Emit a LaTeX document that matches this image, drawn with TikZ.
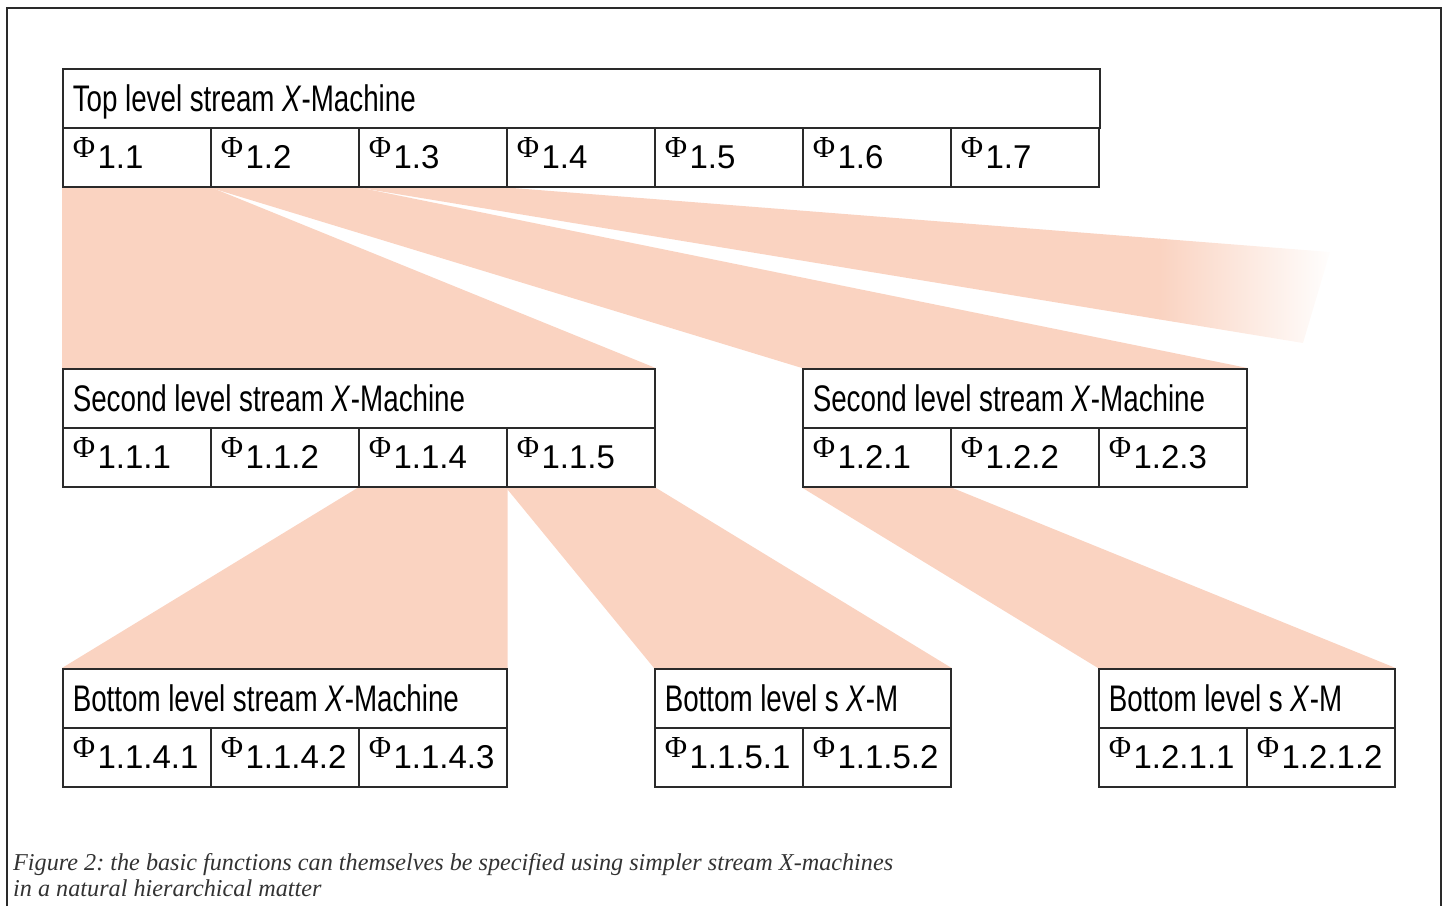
\documentclass[tikz,border=0pt]{standalone}
\usepackage{fontspec}
\setmainfont{Liberation Sans}
\newfontfamily\boxfont[FakeStretch=0.75,WordSpace=0.75]{Liberation Sans}
\newfontfamily\numfont{Liberation Sans}
\newfontfamily\phifont{Liberation Serif}
\newfontfamily\capfont{Liberation Serif}
\usetikzlibrary{backgrounds}
\definecolor{fan}{HTML}{FAD3C1}
\definecolor{edge}{HTML}{2A2A2A}
\definecolor{capgray}{HTML}{333333}
\newcommand{\ph}[1]{{\phifont\fontsize{30.5}{30}\selectfont\raisebox{11pt}{Φ}}\hspace{2.5pt}{\numfont\fontsize{33}{34}\selectfont #1}}
\newcommand{\ttltxt}[1]{\spaceskip=7.6pt plus 1pt minus 1pt\relax #1}
\tikzset{
  boxbase/.style={draw=edge, line width=1.6pt, fill=white, anchor=north west,
    minimum height=59pt, inner xsep=10pt, inner ysep=0pt, text depth=0pt, align=flush left},
  ttl/.style={boxbase, text height=27pt, font=\boxfont\fontsize{37}{40}\selectfont},
  cell/.style={boxbase, text width=128pt, text height=23pt},
  frame/.style={draw=edge, line width=1.3pt},
  captext/.style={anchor=base west, inner sep=0pt, text=capgray,
    font=\capfont\itshape\fontsize{24.2}{26}\selectfont\frenchspacing}
}
\begin{document}
\begin{tikzpicture}[x=1pt,y=-1pt]
\useasboundingbox (0,0) rectangle (1448,906);
\draw[frame] (7,906) -- (7,8) -- (1441,8) -- (1441,906);

% top level
\node[ttl, text width=1017pt] (top) at (62,68) {\ttltxt{Top level stream \textit{X}-Machine}};
\foreach \i in {1,...,7}
  \node[cell] (t\i) at ({62+148*(\i-1)},127) {\ph{1.\i}};

% second level left
\node[ttl, text width=572pt] (s1) at (62,368) {\ttltxt{Second level stream \textit{X}-Machine}};
\node[cell] (p111) at (62,427) {\ph{1.1.1}};
\node[cell] (p112) at (210,427) {\ph{1.1.2}};
\node[cell] (p114) at (358,427) {\ph{1.1.4}};
\node[cell] (p115) at (506,427) {\ph{1.1.5}};

% second level right
\node[ttl, text width=424pt] (s2) at (802,368) {\ttltxt{Second level stream \textit{X}-Machine}};
\node[cell] (p121) at (802,427) {\ph{1.2.1}};
\node[cell] (p122) at (950,427) {\ph{1.2.2}};
\node[cell] (p123) at (1098,427) {\ph{1.2.3}};

% bottom level
\node[ttl, text width=424pt] (b1) at (62,668) {\ttltxt{Bottom level stream \textit{X}-Machine}};
\node[cell] (p1141) at (62,727) {\ph{1.1.4.1}};
\node[cell] (p1142) at (210,727) {\ph{1.1.4.2}};
\node[cell] (p1143) at (358,727) {\ph{1.1.4.3}};

\node[ttl, text width=276pt] (b2) at (654,668) {\ttltxt{Bottom level s \textit{X}-M}};
\node[cell] (p1151) at (654,727) {\ph{1.1.5.1}};
\node[cell] (p1152) at (802,727) {\ph{1.1.5.2}};

\node[ttl, text width=276pt] (b3) at (1098,668) {\ttltxt{Bottom level s \textit{X}-M}};
\node[cell] (p1211) at (1098,727) {\ph{1.2.1.1}};
\node[cell] (p1212) at (1246,727) {\ph{1.2.1.2}};

\coordinate (f3a) at (1330,252);
\coordinate (f3b) at (1303,343);

\begin{scope}[on background layer]
  \fill[fan] (t1.south west) -- (t1.south east) -- (s1.north east) -- (s1.north west) -- cycle;
  \fill[fan] (t2.south west) -- (t2.south east) -- (s2.north east) -- (s2.north west) -- cycle;
  \begin{scope}
    \clip (t3.south west) -- (t3.south east) -- (f3a) -- (f3b) -- cycle;
    \fill[fan] (340,180) rectangle (1160,360);
    \shade[left color=fan, right color=white] (1159,180) rectangle (1336,360);
  \end{scope}
  \fill[fan] (p114.south west) -- (p114.south east) -- (b1.north east) -- (b1.north west) -- cycle;
  \fill[fan] (p115.south west) -- (p115.south east) -- (b2.north east) -- (b2.north west) -- cycle;
  \fill[fan] (p121.south west) -- (p121.south east) -- (b3.north east) -- (b3.north west) -- cycle;
\end{scope}

\node[captext] (cap1) at (13,870) {Figure 2: the basic functions can themselves be specified using simpler stream X-machines};
\node[captext] (cap2) at (13,896) {in a natural hierarchical matter};
\end{tikzpicture}
\end{document}
